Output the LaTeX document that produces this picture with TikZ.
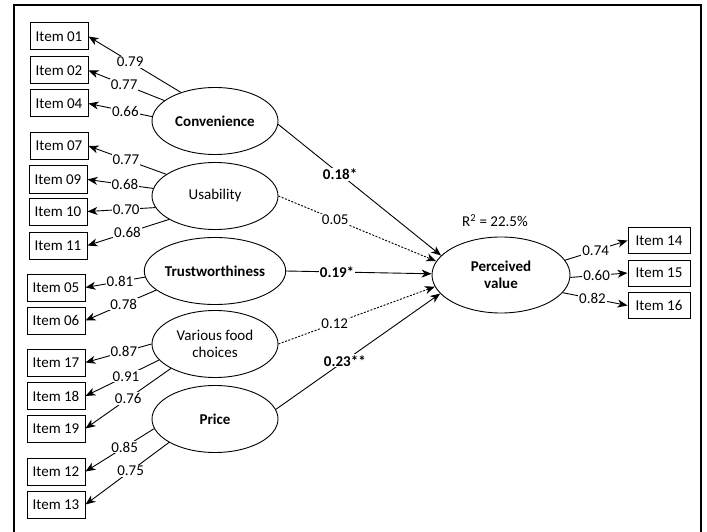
\documentclass[tikz,border=0pt]{standalone}
\usepackage{fontspec}
\setmainfont{Carlito}
\usetikzlibrary{arrows.meta,shapes.geometric}

\newcommand{\sizefont}{\fontsize{15}{17}\selectfont}

\tikzset{
  item/.style={draw, line width=1pt, minimum width=58pt, minimum height=27pt, inner sep=0pt},
  latent/.style={draw, ellipse, line width=0.9pt, minimum width=126pt, minimum height=67pt,
    inner sep=0pt, align=center},
  boldtext/.style={font=\sizefont\bfseries},
  load/.style={line width=0.9pt, -{Stealth[length=10pt,width=8pt,inset=3pt]}},
  coef/.style={fill=white, inner sep=1pt},
  nonsig/.style={dash pattern=on 2pt off 1.5pt}
}

\begin{document}
\begin{tikzpicture}[x=1pt, y=-1pt, font=\sizefont]
\useasboundingbox (0,0) rectangle (707,532);
\draw[line width=1.1pt] (14,533) -- (14,5) -- (701,5) -- (701,533);

% latent variables
\node[latent, boldtext] (conv) at (215,121) {Convenience};
\node[latent] (usab) at (215,196) {Usability};
\node[latent, boldtext] (trust) at (215,271) {Trustworthiness};
\node[latent] (food) at (215,344) {Various food\\choices};
\node[latent, boldtext] (price) at (215,419) {Price};
\node[latent, boldtext, minimum width=138pt, minimum height=76pt] (pv) at (501,275) {Perceived\\value};
\node (r2) at (495,221) {R\textsuperscript{2} = 22.5\%};

% indicators
\node[item] (i01) at (59,36.5) {Item 01};
\node[item] (i02) at (59,70.5) {Item 02};
\node[item] (i04) at (59,103.5) {Item 04};
\node[item] (i07) at (59,146) {Item 07};
\node[item] (i09) at (58,179.5) {Item 09};
\node[item] (i10) at (58,211.5) {Item 10};
\node[item] (i11) at (58,245.5) {Item 11};
\node[item] (i05) at (56,287.5) {Item 05};
\node[item] (i06) at (56,320.5) {Item 06};
\node[item] (i17) at (56,362.5) {Item 17};
\node[item] (i18) at (56,396) {Item 18};
\node[item] (i19) at (56,428.5) {Item 19};
\node[item] (i12) at (56,471.5) {Item 12};
\node[item] (i13) at (56,504.5) {Item 13};
\node[item, minimum width=62pt, minimum height=26pt] (i14) at (659,240.5) {Item 14};
\node[item, minimum width=62pt, minimum height=26pt] (i15) at (659,273) {Item 15};
\node[item, minimum width=62pt, minimum height=26pt] (i16) at (659,305.5) {Item 16};

% loadings
\draw[load] (conv.140) -- node[coef, pos=0.55] {0.79} (i01.east);
\draw[load] (conv.158) -- node[coef, pos=0.53] {0.77} (i02.east);
\draw[load] (conv.176) -- node[coef, pos=0.42] {0.66} (i04.east);

\draw[load] (usab.156) -- node[coef, pos=0.52] {0.77} (i07.east);
\draw[load] (usab.173) -- node[coef, pos=0.43] {0.68} (i09.east);
\draw[load] (usab.191) -- node[coef, pos=0.43] {0.70} (i10.east);
\draw[load] (usab.207) -- node[coef, pos=0.51] {0.68} (i11.east);

\draw[load] (trust.185) -- node[coef, pos=0.42] {0.81} (i05.east);
\draw[load] (trust.198) -- node[coef, pos=0.46] {0.78} (i06.east);

\draw[load] (food.180) -- node[coef, pos=0.42] {0.87} (i17.east);
\draw[load] (food.196) -- node[coef, pos=0.45] {0.91} (i18.east);
\draw[load] (food.209) -- node[coef, pos=0.50] {0.76} (i19.east);

\draw[load] (price.189) -- node[coef, pos=0.43] {0.85} (i12.east);
\draw[load] (price.207) -- node[coef, pos=0.46] {0.75} (i13.east);

\draw[load] (pv.13) -- node[coef, pos=0.49] {0.74} (i14.west);
\draw[load] (pv.-2) -- node[coef, pos=0.46] {0.60} (i15.west);
\draw[load] (pv.-16) -- node[coef, pos=0.46] {0.82} (i16.west);

% paths
\draw[load] (conv.-3) -- node[coef, boldtext, pos=0.38] {0.18*} (pv.162);
\draw[load, nonsig] (usab.east) -- node[coef, pos=0.36] {0.05} (pv.168);
\draw[load] (trust.east) -- node[coef, boldtext, pos=0.35] {0.19*} (pv.179);
\draw[load, nonsig] (food.east) -- node[coef, pos=0.36] {0.12} (pv.190);
\draw[load] (price.9) -- node[coef, boldtext, pos=0.42] {0.23**} (pv.197);

\end{tikzpicture}
\end{document}
